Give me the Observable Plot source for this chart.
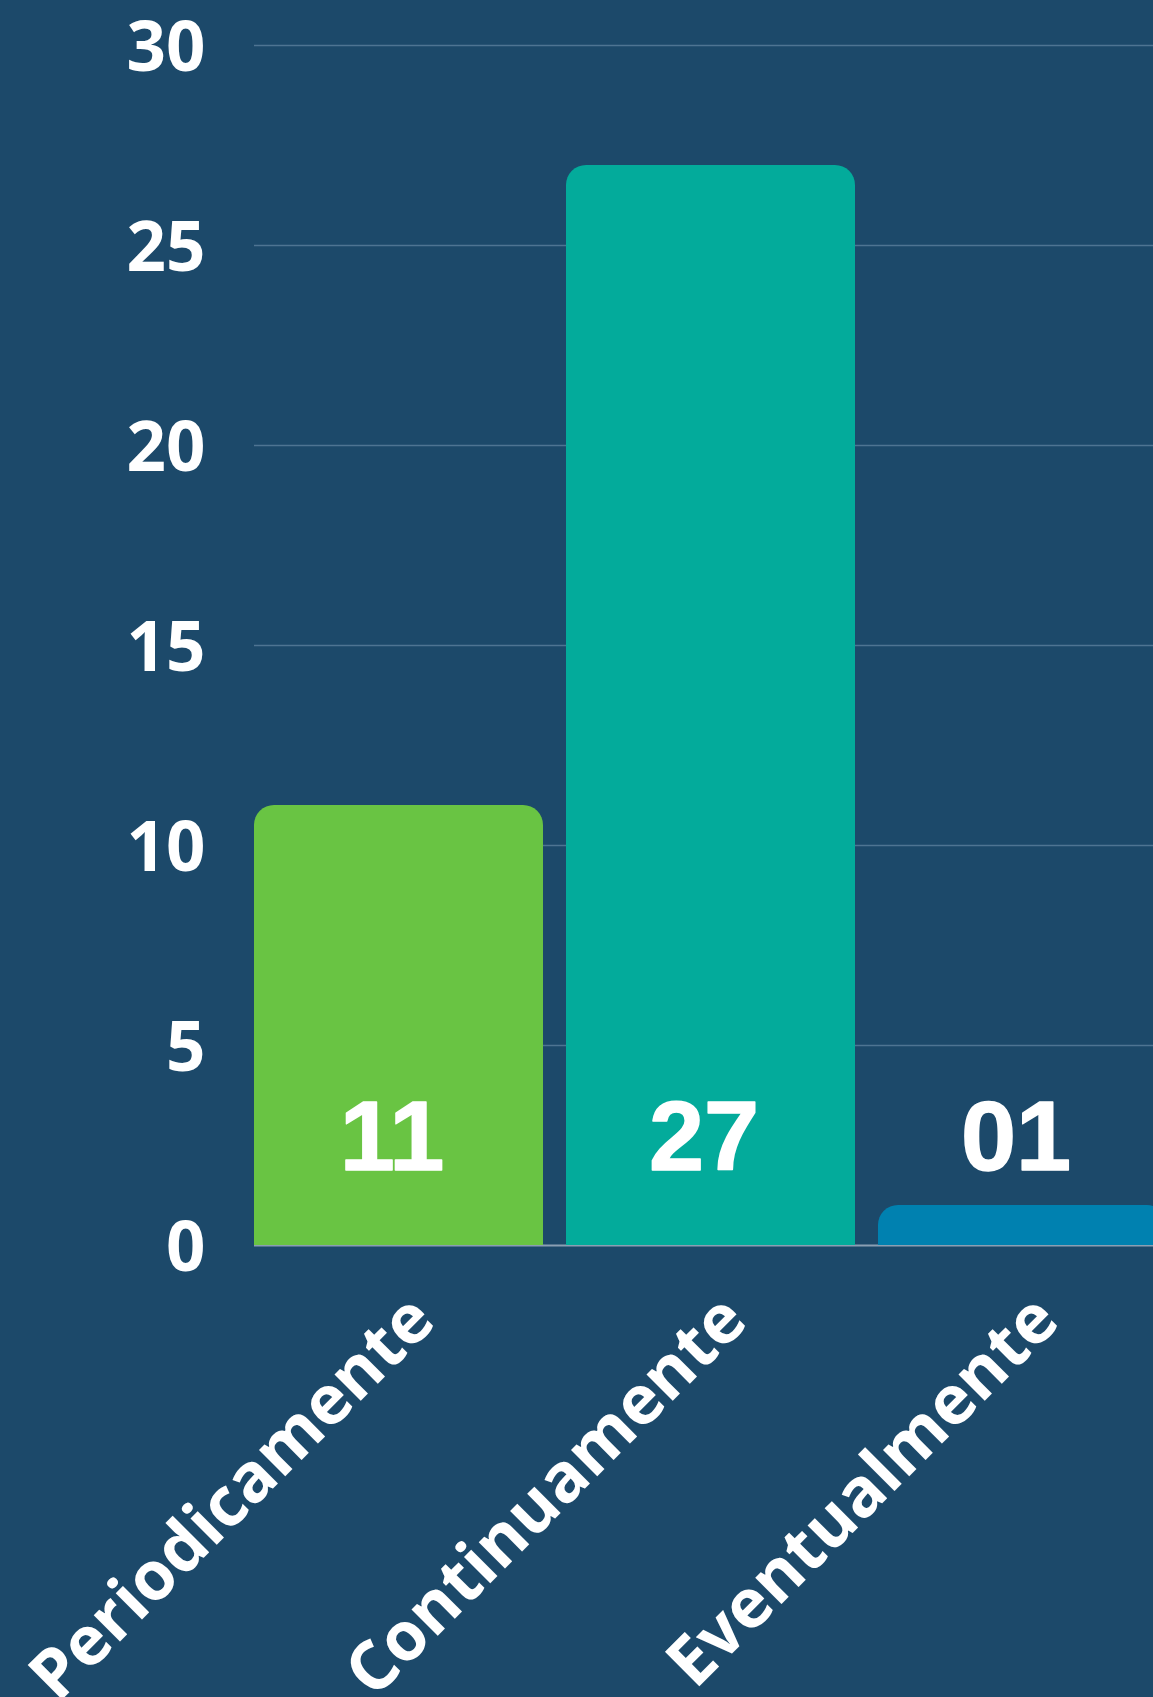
<!DOCTYPE html>
<html>
<head>
<meta charset="utf-8">
<script src="https://cdn.jsdelivr.net/npm/d3@7"></script>
<script src="https://cdn.jsdelivr.net/npm/@observablehq/plot@0.6"></script>
<style>
  html, body { margin: 0; padding: 0; background: #1c496a; overflow: hidden; }
</style>
</head>
<body>
<div id="chart"></div>
<script>
const categories = ["Periodicamente", "Continuamente", "Eventualmente"];
const values = [11, 27, 1];
const valueLabels = ["11", "27", "01"];
const colors = ["#69c443", "#03ab9b", "#0081b0"];
const yTicks = [0, 5, 10, 15, 20, 25, 30];

const data = categories.map((c, i) => ({
  category: c, value: values[i], label: valueLabels[i], color: colors[i]
}));

const chart = Plot.plot({
  width: 1153,
  height: 1697,
  marginLeft: 254,
  marginRight: 0,
  marginTop: 45,
  marginBottom: 452,
  style: { background: "#1c496a", color: "white", fontFamily: "'Open Sans', sans-serif" },
  x: { domain: categories, range: [254, 1167], paddingInner: 23 / 312, paddingOuter: 0, axis: null },
  y: { domain: [0, 30], axis: null },
  marks: [
    Plot.gridY(yTicks.filter(t => t > 0), { stroke: "#4e7492", strokeOpacity: 1, strokeWidth: 1.5 }),
    Plot.ruleY([0], { stroke: "#8a9fb3", strokeWidth: 2 }),
    Plot.barY(data, { x: "category", y: "value", fill: "color", rx: 20 }),
    Plot.barY(data, { x: "category", y1: 0, y2: d => d.value - 0.5, fill: "color" }),
    Plot.axisY({
      ticks: yTicks, tickSize: 0, tickPadding: 49, tickFormat: d => String(d), label: null,
      fontSize: 69, fontWeight: 700, fontFamily: "Open Sans", fill: "white", dy: 3
    }),
    Plot.text(data, {
      x: "category", text: "label", frameAnchor: "bottom", dy: -76, dx: -7,
      fontSize: 99, fontWeight: 700, fontFamily: "Liberation Sans", fill: "white",
      stroke: "white", strokeWidth: 1.5
    }),
    Plot.text(data, {
      x: "category", text: "category", frameAnchor: "bottom", rotate: -45,
      textAnchor: "end", dx: 39, dy: 78,
      fontSize: 68, fontWeight: 700, fontFamily: "Open Sans", fill: "white"
    })
  ]
});
document.getElementById("chart").appendChild(chart);
</script>
</body>
</html>
